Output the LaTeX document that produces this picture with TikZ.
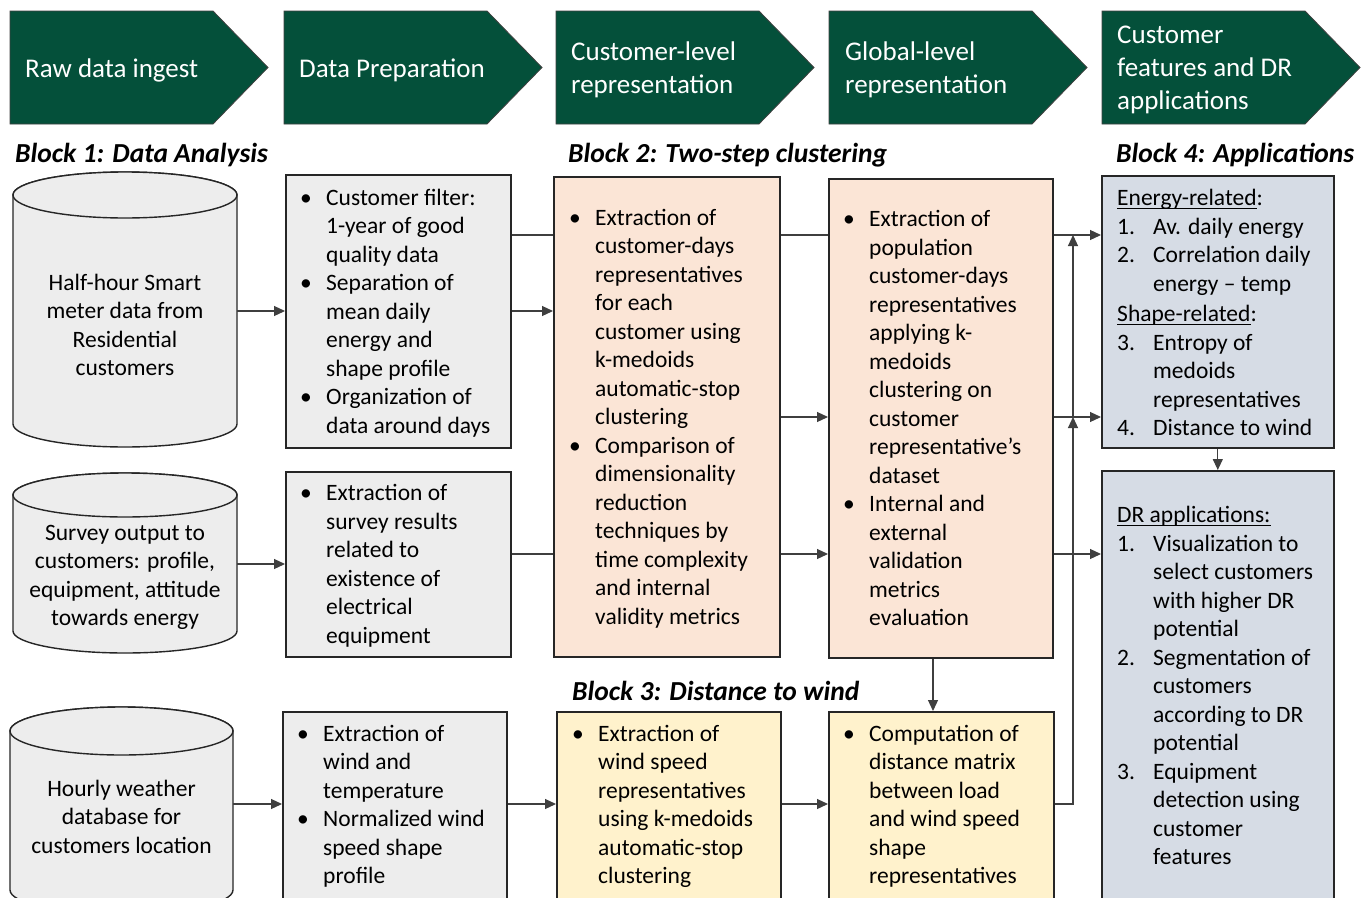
\documentclass[tikz,border=0pt]{standalone}
\usepackage{fontspec}
\setmainfont{Carlito}
\usetikzlibrary{arrows.meta,calc}
\definecolor{hdrgreen}{HTML}{04503A}
\definecolor{gbox}{HTML}{EDEDED}
\definecolor{pbox}{HTML}{FBE5D6}
\definecolor{ybox}{HTML}{FFF2CC}
\definecolor{bbox}{HTML}{D6DCE5}
\definecolor{edgec}{HTML}{262626}
\definecolor{wirec}{HTML}{3F3F3F}
\newcommand\bitem{\strut\makebox[26pt][l]{\textbullet}}
\newcommand\bcont{\strut\hspace*{26pt}}
\newcommand\nitem[1]{\strut\makebox[36pt][l]{#1}}
\newcommand\ncont{\strut\hspace*{36pt}}
\newcommand\ulin[1]{\setbox0\hbox{#1}\rlap{\rule[-3pt]{\wd0}{0.9pt}}\box0}
\begin{document}
\begin{tikzpicture}[x=1pt,y=-1pt,
  font=\fontsize{23.5}{28.5}\selectfont,
  boxs/.style={draw=edgec, line width=1.6pt, anchor=north west, inner sep=0pt},
  txt/.style={align=left, inner sep=0pt, anchor=west, yshift=-2pt},
  wire/.style={draw=wirec, line width=1.2pt},
  arr/.style={wire, -{Triangle[length=11pt,width=10pt]}},
  chev/.style={fill=hdrgreen, draw=black!75, line width=0.8pt},
  htxt/.style={text=white, align=left, anchor=west, inner sep=0pt, font=\fontsize{27}{33}\selectfont},
  ttl/.style={anchor=west, inner sep=0pt, font=\fontsize{27.5}{33}\selectfont\bfseries\itshape},
  drum/.style={fill=gbox, draw=edgec, line width=1.4pt},
  drumtxt/.style={align=center, inner sep=0pt, anchor=center}
]
\fill[white] (0,0) rectangle (1368,897);
\clip (0,0) rectangle (1368,897);

% header chevrons
\foreach \xx in {10,284,556,829,1102}{
  \filldraw[chev] (\xx,11) -- ++(203,0) -- ++(55,56.5) -- ++(-55,56.5) -- ++(-203,0) -- cycle;
}
\node[htxt] (h1) at (25,70) {Raw data ingest};
\node[htxt] (h2) at (299,70) {Data Preparation};
\node[htxt] (h3) at (571,70) {Customer-level\\representation};
\node[htxt] (h4) at (845,70) {Global-level\\representation};
\node[htxt] (h5) at (1117,69.5) {Customer\\features and DR\\applications};

% block titles
\node[ttl] (t1) at (15,155) {Block 1: Data Analysis};
\node[ttl] (t2) at (568,155) {Block 2: Two-step clustering};
\node[ttl] (t4) at (1116,155) {Block 4: Applications};
\node[ttl] (t3) at (572,691) {Block 3: Distance to wind};

% cylinders
\filldraw[drum] (13,195) -- (13,424) arc[start angle=180,end angle=360,x radius=112pt,y radius=23pt] -- (237,195) arc[start angle=0,end angle=180,x radius=112pt,y radius=23pt] -- cycle;
\draw[drum] (125,195) ellipse [x radius=112pt, y radius=23pt];
\filldraw[drum] (13,495) -- (13,631) arc[start angle=180,end angle=360,x radius=112pt,y radius=22pt] -- (237,495) arc[start angle=0,end angle=180,x radius=112pt,y radius=22pt] -- cycle;
\draw[drum] (125,495) ellipse [x radius=112pt, y radius=22pt];
\filldraw[drum] (10,731) -- (10,890) arc[start angle=180,end angle=360,x radius=111.5pt,y radius=24pt] -- (233,731) arc[start angle=0,end angle=180,x radius=111.5pt,y radius=24pt] -- cycle;
\draw[drum] (121.5,731) ellipse [x radius=111.5pt, y radius=24pt];

\node[drumtxt, minimum width=224pt] (C1) at (125,325) {Half-hour Smart\\meter data from\\Residential\\customers};
\node[drumtxt, minimum width=224pt] (C2) at (125,577.5) {Survey output to\\customers: profile,\\equipment, attitude\\towards energy};
\node[drumtxt, minimum width=223pt] (C3) at (121.5,816.5) {Hourly weather\\database for\\customers location};

% boxes
\node[boxs, fill=gbox, minimum width=225pt, minimum height=273pt] (A) at (285,174) {};
\node[boxs, fill=gbox, minimum width=225pt, minimum height=185pt] (B) at (285,471) {};
\node[boxs, fill=gbox, minimum width=224pt, minimum height=189pt] (C) at (282,711) {};
\node[boxs, fill=pbox, minimum width=226pt, minimum height=480pt] (D) at (553,176) {};
\node[boxs, fill=pbox, minimum width=224pt, minimum height=479pt] (E) at (828,178) {};
\node[boxs, fill=ybox, minimum width=224pt, minimum height=189pt] (F) at (556,711) {};
\node[boxs, fill=ybox, minimum width=225pt, minimum height=189pt] (G) at (828,711) {};
\node[boxs, fill=bbox, minimum width=232pt, minimum height=272pt] (H) at (1101,175) {};
\node[boxs, fill=bbox, minimum width=232pt, minimum height=430pt] (I) at (1101,470) {};

% box texts
\node[txt] (At) at ([xshift=15pt]A.west) {\bitem Customer filter:\\\bcont 1-year of good\\\bcont quality data\\\bitem Separation of\\\bcont mean daily\\\bcont energy and\\\bcont shape profile\\\bitem Organization of\\\bcont data around days};
\node[txt] (Bt) at ([xshift=15pt]B.west) {\bitem Extraction of\\\bcont survey results\\\bcont related to\\\bcont existence of\\\bcont electrical\\\bcont equipment};
\node[txt] (Ct) at ([xshift=15pt,yshift=1.5pt]C.west) {\bitem Extraction of\\\bcont wind and\\\bcont temperature\\\bitem Normalized wind\\\bcont speed shape\\\bcont profile};
\node[txt] (Dt) at ([xshift=16pt]D.west) {\bitem Extraction of\\\bcont customer-days\\\bcont representatives\\\bcont for each\\\bcont customer using\\\bcont k-medoids\\\bcont automatic-stop\\\bcont clustering\\\bitem Comparison of\\\bcont dimensionality\\\bcont reduction\\\bcont techniques by\\\bcont time complexity\\\bcont and internal\\\bcont validity metrics};
\node[txt] (Et) at ([xshift=15pt]E.west) {\bitem Extraction of\\\bcont population\\\bcont customer-days\\\bcont representatives\\\bcont applying k-\\\bcont medoids\\\bcont clustering on\\\bcont customer\\\bcont representative's\\\bcont dataset\\\bitem Internal and\\\bcont external\\\bcont validation\\\bcont metrics\\\bcont evaluation};
\node[txt] (Ft) at ([xshift=16pt,yshift=1.5pt]F.west) {\bitem Extraction of\\\bcont wind speed\\\bcont representatives\\\bcont using k-medoids\\\bcont automatic-stop\\\bcont clustering};
\node[txt] (Gt) at ([xshift=15pt,yshift=1.5pt]G.west) {\bitem Computation of\\\bcont distance matrix\\\bcont between load\\\bcont and wind speed\\\bcont shape\\\bcont representatives};
\node[txt] (Ht) at ([xshift=16pt,yshift=-1pt]H.west) {\strut\ulin{Energy-related}:\\\nitem{1.}Av. daily energy\\\nitem{2.}Correlation daily\\\ncont energy -- temp\\[2pt]\strut\ulin{Shape-related}:\\\nitem{3.}Entropy of\\\ncont medoids\\\ncont representatives\\\nitem{4.}Distance to wind};
\node[txt] (It) at ([xshift=16pt]I.west) {\strut\ulin{DR applications:}\\\nitem{1.}Visualization to\\\ncont select customers\\\ncont with higher DR\\\ncont potential\\\nitem{2.}Segmentation of\\\ncont customers\\\ncont according to DR\\\ncont potential\\\nitem{3.}Equipment\\\ncont detection using\\\ncont customer\\\ncont features};

% row / column references
\coordinate (ra) at (0,235);
\coordinate (rb) at (0,311);
\coordinate (rc) at (0,417);
\coordinate (rd) at (0,554);
\coordinate (re) at (0,564);
\coordinate (rf) at (0,804);
\coordinate (xe) at (933,0);
\coordinate (xbus) at (1073,0);

% connectors
\draw[arr] (C1.east |- rb) -- (A.west |- rb);
\draw[wire] (A.east |- ra) -- (D.west |- ra);
\draw[arr] (A.east |- rb) -- (D.west |- rb);
\draw[arr] (C2.east |- re) -- (B.west |- re);
\draw[wire] (B.east |- rd) -- (D.west |- rd);
\draw[arr] (C3.east |- rf) -- (C.west |- rf);
\draw[arr] (C.east |- rf) -- (F.west |- rf);
\draw[wire] (D.east |- ra) -- (E.west |- ra);
\draw[arr] (D.east |- rc) -- (E.west |- rc);
\draw[arr] (D.east |- rd) -- (E.west |- rd);
\draw[arr] (F.east |- rf) -- (G.west |- rf);
\draw[arr] (E.east |- ra) -- (H.west |- ra);
\draw[arr] (E.east |- rc) -- (H.west |- rc);
\draw[arr] (E.east |- rd) -- (I.west |- rd);
\draw[arr] (E.south -| xe) -- (G.north -| xe);
\draw[arr] (G.east |- rf) -| (xbus |- rc);
\draw[arr] (xbus |- rc) -- (xbus |- ra);
\draw[arr] (H.south) -- (I.north);
\end{tikzpicture}
\end{document}
